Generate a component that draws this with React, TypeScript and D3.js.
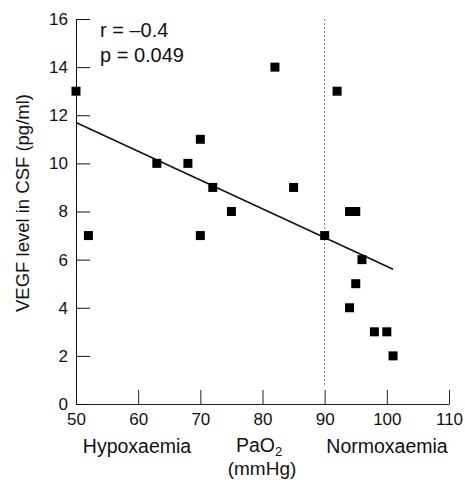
import React, { useEffect, useRef } from 'react';
import * as d3 from 'd3';

// PaO2 (mmHg) and VEGF level (pg/ml)
const pao2 = [50, 52, 63, 68, 70, 70, 72, 75, 82, 85, 90, 92, 94, 95, 96, 95, 94, 98, 100, 101];
const vegf = [13, 7, 10, 10, 11, 7, 9, 8, 14, 9, 7, 13, 8, 8, 6, 5, 4, 3, 3, 2];

// fitted regression line end points
const fitX = [50, 101];
const fitY = [11.7, 5.6];

const xTicks = [50, 60, 70, 80, 90, 100, 110];
const yTicks = [0, 2, 4, 6, 8, 10, 12, 14, 16];
const cutoff = 90;

const W = 465, H = 480;
const FONT = '"Liberation Sans", Arial, sans-serif';

export default function App() {
  const xAxisRef = useRef<SVGGElement>(null);
  const yAxisRef = useRef<SVGGElement>(null);

  const x = d3.scaleLinear().domain([50, 110]).range([76, 449]);
  const y = d3.scaleLinear().domain([0, 16]).range([404, 19]);

  useEffect(() => {
    const gx = d3.select(xAxisRef.current!);
    gx.call(d3.axisBottom(x).tickValues(xTicks).tickSizeInner(-14).tickSizeOuter(0).tickPadding(9));
    gx.attr('font-family', FONT).attr('font-size', 17);
    gx.selectAll('line, path').attr('stroke', '#222');
    gx.selectAll('text').attr('fill', '#111');

    const gy = d3.select(yAxisRef.current!);
    gy.call(d3.axisLeft(y).tickValues(yTicks).tickSizeInner(-14).tickSizeOuter(0).tickPadding(8));
    gy.attr('font-family', FONT).attr('font-size', 17);
    gy.selectAll('line, path').attr('stroke', '#111');
    gy.selectAll('text').attr('fill', '#111');
  }, []);

  const fitLine = d3.line<number>()
    .x((d) => x(d))
    .y((_, i) => y(fitY[i]));

  const size = 9;

  return (
    <svg width={W} height={H} style={{ position: 'absolute', left: 0, top: 0, background: '#fff' }}>
      <line x1={x(cutoff)} x2={x(cutoff)} y1={y(16)} y2={y(0.8)}
        stroke="#777" strokeWidth={1} strokeDasharray="2,2" />

      <g ref={xAxisRef} transform={`translate(0,${y(0)})`} />
      <g ref={yAxisRef} transform={`translate(${x(50)},0)`} />

      <path d={fitLine(fitX) ?? ''} fill="none" stroke="#111" strokeWidth={1.5} />

      {pao2.map((d, i) => (
        <rect key={i} x={x(d) - size / 2} y={y(vegf[i]) - size / 2}
          width={size} height={size} fill="#000" />
      ))}

      <g fontFamily={FONT} fill="#111">
        <text x={100} y={37} fontSize={20}>r = –0.4</text>
        <text x={100} y={62} fontSize={20}>p = 0.049</text>

        <text transform="translate(29,203) rotate(-90)" textAnchor="middle" fontSize={18.5}>
          VEGF level in CSF (pg/ml)
        </text>

        <text x={137} y={453} textAnchor="middle" fontSize={19.5}>Hypoxaemia</text>
        <text x={236} y={452} fontSize={19.5}>PaO<tspan fontSize={13} dy={4}>2</tspan></text>
        <text x={262} y={475} textAnchor="middle" fontSize={19}>(mmHg)</text>
        <text x={387} y={453} textAnchor="middle" fontSize={19.5}>Normoxaemia</text>
      </g>
    </svg>
  );
}
